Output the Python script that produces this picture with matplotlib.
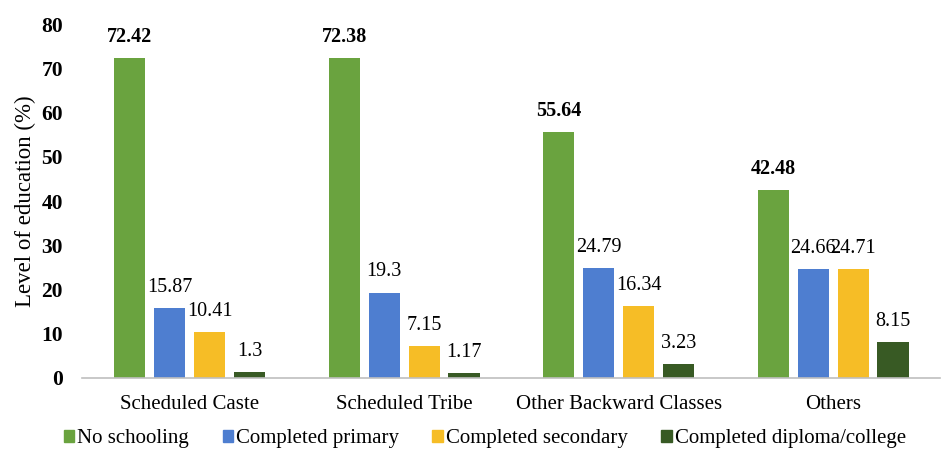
import numpy as np
import matplotlib.pyplot as plt
from matplotlib.patches import Patch

plt.rcParams['font.family'] = ['Liberation Serif', 'DejaVu Serif']

categories = ['Scheduled Caste', 'Scheduled Tribe', 'Other Backward Classes', 'Others']
series_names = ['No schooling', 'Completed primary', 'Completed secondary',
                'Completed diploma/college']
no_schooling = [72.42, 72.38, 55.64, 42.48]
primary = [15.87, 19.3, 24.79, 24.66]
secondary = [10.41, 7.15, 16.34, 24.71]
diploma = [1.3, 1.17, 3.23, 8.15]
yticks = [0, 10, 20, 30, 40, 50, 60, 70, 80]

colors = ['#6aa33f', '#4e7ed0', '#f6bd26', '#385a24']
all_series = [no_schooling, primary, secondary, diploma]

fig = plt.figure(figsize=(9.47, 4.57), dpi=100)
ax = fig.add_axes([0.087, 0.173, 0.906, 0.774])

x = np.arange(len(categories))
width = 0.145
pitch = 0.186
for i, (vals, col) in enumerate(zip(all_series, colors)):
    pos = x + (i - 1.5) * pitch
    bars = ax.bar(pos, vals, width=width, color=col, zorder=2)
    for b, v in zip(bars, vals):
        ax.annotate(f'{v:g}', (b.get_x() + b.get_width() / 2, v),
                    xytext=(0, 8), textcoords='offset points',
                    ha='center', va='bottom', fontsize=14.5,
                    fontweight='bold' if i == 0 else 'normal', color='black')

ax.set_xlim(-0.5, 3.5)
ax.set_ylim(0, 80)
ax.set_yticks(yticks)
ax.set_yticklabels([str(t) for t in yticks], fontsize=15.5, fontweight='bold')
ax.set_xticks(x)
ax.set_xticklabels(categories, fontsize=15)
ax.tick_params(axis='x', length=0, pad=12)
ax.tick_params(axis='y', length=0, pad=14)
for s in ['top', 'right', 'left']:
    ax.spines[s].set_visible(False)
ax.spines['bottom'].set_color('#bfbfbf')
ax.spines['bottom'].set_linewidth(1.2)
ax.set_ylabel('Level of education (%)', fontsize=16.5, labelpad=4)

handles = [Patch(color=c) for c in colors]
fig.legend(handles, series_names, loc='center', bbox_to_anchor=(0.512, 0.04),
           ncol=4, frameon=False, fontsize=15, handlelength=0.5,
           handleheight=0.5, handletextpad=0.15, columnspacing=1.6)

fig.savefig('out.png', dpi=100)
